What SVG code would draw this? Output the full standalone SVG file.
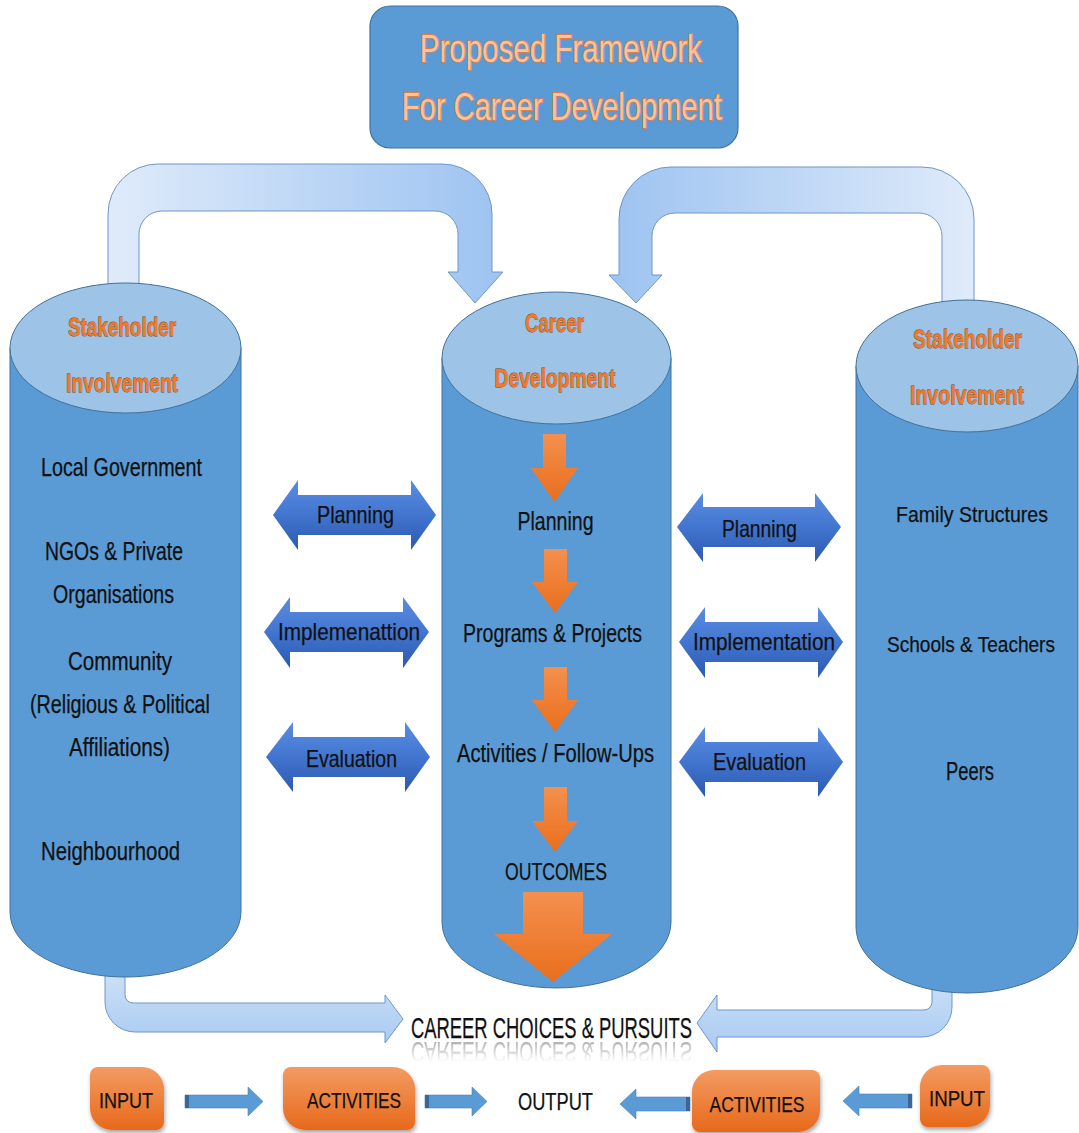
<svg xmlns="http://www.w3.org/2000/svg" width="1079" height="1133" viewBox="0 0 1079 1133">
  <style>
    .t { font-family: "Liberation Sans Narrow", "Liberation Sans", Arial, sans-serif; fill: #111; stroke: #111; stroke-width: 0.25; text-anchor: middle; }
    .lbl { font-family: "Liberation Sans Narrow", "Liberation Sans", Arial, sans-serif; font-weight: bold; fill: #f07a2a; stroke: #6e4428; stroke-width: 0.8; paint-order: stroke; text-anchor: middle; }
    .ttl { font-family: "Liberation Sans Narrow", "Liberation Sans", Arial, sans-serif; fill: #f8c39d; stroke: #ec7a2e; stroke-width: 1.4; paint-order: stroke; text-anchor: middle; }
    .body { fill: #5b9bd5; stroke: #41719c; stroke-width: 1; }
    .cap { fill: #9dc3e6; stroke: #41719c; stroke-width: 1; }
    .dbl { fill: url(#gDbl); }
    .ora { fill: url(#gOra); }
    .box { fill: url(#gBox); filter: url(#shadow); }
    .sm { fill: #5b9bd5; stroke: #4a7ebb; stroke-width: 0.6; }
    .smcap { fill: #3a6796; }
  </style>
  <defs>
    <linearGradient id="gTopL" x1="0" y1="0" x2="1" y2="0">
      <stop offset="0" stop-color="#dfebfa"/>
      <stop offset="1" stop-color="#9dc3f1"/>
    </linearGradient>
    <linearGradient id="gTopR" x1="0" y1="0" x2="1" y2="0">
      <stop offset="0" stop-color="#9dc3f1"/>
      <stop offset="1" stop-color="#dfebfa"/>
    </linearGradient>
    <linearGradient id="gBot" x1="0" y1="0" x2="0" y2="1">
      <stop offset="0" stop-color="#d3e4f8"/>
      <stop offset="1" stop-color="#a9cbf2"/>
    </linearGradient>
    <linearGradient id="gDbl" x1="0" y1="0" x2="0" y2="1">
      <stop offset="0" stop-color="#5a8de0"/>
      <stop offset="0.5" stop-color="#4275cf"/>
      <stop offset="1" stop-color="#2c59b0"/>
    </linearGradient>
    <linearGradient id="gOra" x1="0" y1="0" x2="0" y2="1">
      <stop offset="0" stop-color="#f4904f"/>
      <stop offset="1" stop-color="#e96e1b"/>
    </linearGradient>
    <linearGradient id="gBox" x1="0" y1="0" x2="0" y2="1">
      <stop offset="0" stop-color="#f39b63"/>
      <stop offset="1" stop-color="#e7691a"/>
    </linearGradient>
    <linearGradient id="gFade" gradientUnits="userSpaceOnUse" x1="0" y1="1040" x2="0" y2="1062">
      <stop offset="0" stop-color="#fff"/>
      <stop offset="1" stop-color="#000"/>
    </linearGradient>
    <mask id="fade">
      <rect x="400" y="1038" width="300" height="30" fill="url(#gFade)"/>
    </mask>
    <filter id="shadow" x="-10%" y="-10%" width="120%" height="130%">
      <feDropShadow dx="1" dy="3" stdDeviation="2" flood-color="#000" flood-opacity="0.35"/>
    </filter>
  </defs>

  <!-- connectors: sweeping feedback arrows between the cylinders and the shared result -->
  <g id="connectors">
    <path d="M108,300 V214 A50,50 0 0 1 158,164 H442 A50,50 0 0 1 492,214 V272 H503 L475,303 L448,272 H458 V234 A23,23 0 0 0 435,211 H162 A23,23 0 0 0 139,234 V300 Z" fill="url(#gTopL)" stroke="#6f96c8" stroke-width="1"/>
    <path d="M974,310 V219 A52,52 0 0 0 922,167 H671 A52,52 0 0 0 619,219 V275 H609 L636,303 L662,275 H652 V236 A23,23 0 0 1 675,213 H919 A23,23 0 0 1 942,236 V310 Z" fill="url(#gTopR)" stroke="#6f96c8" stroke-width="1"/>
    <path d="M105,960 V1002 A30,30 0 0 0 135,1032 H385 V1043 L403,1019 L385,995 V1003 H133 A8,8 0 0 1 125,995 V960 Z" fill="url(#gBot)" stroke="#6f96c8" stroke-width="1"/>
    <path d="M952,960 V1007 A30,30 0 0 1 922,1037 H717 V1052 L697,1023 L717,995 V1010 H924 A8,8 0 0 0 932,1002 V960 Z" fill="url(#gBot)" stroke="#6f96c8" stroke-width="1"/>
  </g>

  <!-- title -->
  <g id="title">
    <rect x="370" y="6" width="368" height="142" rx="20" fill="#5b9bd5" stroke="#41719c" stroke-width="1.2"/>
    <text class="ttl" x="561" y="62" font-size="38" textLength="282" lengthAdjust="spacingAndGlyphs">Proposed Framework</text>
    <text class="ttl" x="562" y="120" font-size="38" textLength="320" lengthAdjust="spacingAndGlyphs">For Career Development</text>
  </g>

  <!-- left stakeholder cylinder -->
  <g id="stakeholders-left">
    <path class="body" d="M10,348 V912 A115.5,65 0 0 0 241,912 V348 Z"/>
    <ellipse class="cap" cx="125.5" cy="348" rx="115.5" ry="65"/>
    <text class="lbl" x="122" y="336" font-size="26" textLength="108" lengthAdjust="spacingAndGlyphs">Stakeholder</text>
    <text class="lbl" x="122" y="392" font-size="26" textLength="112" lengthAdjust="spacingAndGlyphs">Involvement</text>
    <text class="t" x="121.5" y="476" font-size="25" textLength="161" lengthAdjust="spacingAndGlyphs">Local Government</text>
    <text class="t" x="114" y="560" font-size="25" textLength="138" lengthAdjust="spacingAndGlyphs">NGOs &amp; Private</text>
    <text class="t" x="113.5" y="603" font-size="25" textLength="121" lengthAdjust="spacingAndGlyphs">Organisations</text>
    <text class="t" x="120" y="670" font-size="25" textLength="104" lengthAdjust="spacingAndGlyphs">Community</text>
    <text class="t" x="120" y="713" font-size="25" textLength="180" lengthAdjust="spacingAndGlyphs">(Religious &amp; Political</text>
    <text class="t" x="119.5" y="756" font-size="25" textLength="101" lengthAdjust="spacingAndGlyphs">Affiliations)</text>
    <text class="t" x="110.5" y="860" font-size="25" textLength="139" lengthAdjust="spacingAndGlyphs">Neighbourhood</text>
  </g>

  <!-- central career development cylinder with its stage arrows -->
  <g id="career-development">
    <path class="body" d="M442,358 V922 A114.5,66 0 0 0 671,922 V358 Z"/>
    <ellipse class="cap" cx="556.5" cy="358" rx="114.5" ry="66"/>
    <text class="lbl" x="554.5" y="332" font-size="26" textLength="59" lengthAdjust="spacingAndGlyphs">Career</text>
    <text class="lbl" x="555" y="387" font-size="26" textLength="121" lengthAdjust="spacingAndGlyphs">Development</text>
    <path class="ora" d="M543,434 H566 V468 H578 L554.5,502 L531,468 H543 Z"/>
    <text class="t" x="555.5" y="530" font-size="25" textLength="76" lengthAdjust="spacingAndGlyphs">Planning</text>
    <path class="ora" d="M544,549 H567 V582 H578 L555,613 L532,582 H544 Z"/>
    <text class="t" x="552.5" y="642" font-size="25" textLength="179" lengthAdjust="spacingAndGlyphs">Programs &amp; Projects</text>
    <path class="ora" d="M544,667 H567 V700 H578 L555,732 L532,700 H544 Z"/>
    <text class="t" x="555.5" y="762" font-size="25" textLength="197" lengthAdjust="spacingAndGlyphs">Activities / Follow-Ups</text>
    <path class="ora" d="M544,787 H567 V821 H578 L555,852 L532,821 H544 Z"/>
    <text class="t" x="556" y="880" font-size="24" textLength="102" lengthAdjust="spacingAndGlyphs">OUTCOMES</text>
    <path class="ora" d="M523,892 H583 V934 H612 L553,982 L494,934 H523 Z"/>
  </g>

  <!-- right stakeholder cylinder -->
  <g id="stakeholders-right">
    <path class="body" d="M856,366 V927 A111,66 0 0 0 1078,927 V366 Z"/>
    <ellipse class="cap" cx="967" cy="366" rx="111" ry="66"/>
    <text class="lbl" x="967.5" y="348" font-size="26" textLength="109" lengthAdjust="spacingAndGlyphs">Stakeholder</text>
    <text class="lbl" x="967" y="404" font-size="26" textLength="114" lengthAdjust="spacingAndGlyphs">Involvement</text>
    <text class="t" x="972" y="522" font-size="22" textLength="152" lengthAdjust="spacingAndGlyphs">Family Structures</text>
    <text class="t" x="971" y="652" font-size="22" textLength="168" lengthAdjust="spacingAndGlyphs">Schools &amp; Teachers</text>
    <text class="t" x="970" y="780" font-size="25" textLength="48" lengthAdjust="spacingAndGlyphs">Peers</text>
  </g>

  <!-- two-way exchange arrows, left side -->
  <g id="exchange-left">
    <path class="dbl" d="M273,515 L298,480 V495 H411 V480 L436,515 L411,550 V535 H298 V550 Z"/>
    <text class="t" x="355.5" y="523" font-size="24" textLength="77" lengthAdjust="spacingAndGlyphs">Planning</text>
    <path class="dbl" d="M264,632 L290,597 V612 H403 V597 L429,632 L403,668 V652 H290 V668 Z"/>
    <text class="t" x="349" y="640" font-size="24" textLength="142" lengthAdjust="spacingAndGlyphs">Implemenattion</text>
    <path class="dbl" d="M266,757 L293,722 V737 H405 V722 L430,757 L405,792 V777 H293 V792 Z"/>
    <text class="t" x="351.5" y="767" font-size="24" textLength="91" lengthAdjust="spacingAndGlyphs">Evaluation</text>
  </g>

  <!-- two-way exchange arrows, right side -->
  <g id="exchange-right">
    <path class="dbl" d="M677,527 L703,493 V507 H815 V493 L841,527 L815,562 V547 H703 V562 Z"/>
    <text class="t" x="759.5" y="537" font-size="24" textLength="75" lengthAdjust="spacingAndGlyphs">Planning</text>
    <path class="dbl" d="M679,642 L705,607 V622 H818 V607 L843,642 L818,678 V662 H705 V678 Z"/>
    <text class="t" x="764" y="650" font-size="24" textLength="142" lengthAdjust="spacingAndGlyphs">Implementation</text>
    <path class="dbl" d="M679,762 L705,727 V742 H818 V727 L843,762 L818,797 V782 H705 V797 Z"/>
    <text class="t" x="759.5" y="770" font-size="24" textLength="93" lengthAdjust="spacingAndGlyphs">Evaluation</text>
  </g>

  <!-- shared result, with its faded mirror image -->
  <g id="career-choices">
    <text class="t" x="551.5" y="1038" font-size="29" textLength="281" lengthAdjust="spacingAndGlyphs">CAREER CHOICES &amp; PURSUITS</text>
    <g mask="url(#fade)" aria-hidden="true">
      <text class="t" x="551.5" y="1038" font-size="29" textLength="281" lengthAdjust="spacingAndGlyphs" transform="matrix(1 0 0 -1 0 2080)" opacity="0.35">CAREER CHOICES &amp; PURSUITS</text>
    </g>
  </g>

  <!-- input → activities → output chain -->
  <g id="input-left">
    <path class="box" d="M98,1067 H142 A22,22 0 0 1 164,1089 V1122 A8,8 0 0 1 156,1130 H112 A22,22 0 0 1 90,1108 V1075 A8,8 0 0 1 98,1067 Z"/>
    <text class="t" x="126" y="1108" font-size="22" textLength="54" lengthAdjust="spacingAndGlyphs">INPUT</text>
  </g>
  <g id="activities-left">
    <path class="box" d="M291,1067 H393 A22,22 0 0 1 415,1089 V1122 A8,8 0 0 1 407,1130 H305 A22,22 0 0 1 283,1108 V1075 A8,8 0 0 1 291,1067 Z"/>
    <text class="t" x="354" y="1108" font-size="22" textLength="94" lengthAdjust="spacingAndGlyphs">ACTIVITIES</text>
  </g>
  <g id="output">
    <text class="t" x="555.5" y="1110" font-size="23" textLength="75" lengthAdjust="spacingAndGlyphs">OUTPUT</text>
  </g>
  <g id="activities-right">
    <path class="box" d="M714,1070 H812 A8,8 0 0 1 820,1078 V1110 A22,22 0 0 1 798,1132 H700 A8,8 0 0 1 692,1124 V1092 A22,22 0 0 1 714,1070 Z"/>
    <text class="t" x="757" y="1112" font-size="22" textLength="95" lengthAdjust="spacingAndGlyphs">ACTIVITIES</text>
  </g>
  <g id="input-right">
    <path class="box" d="M942,1065 H982 A8,8 0 0 1 990,1073 V1105 A22,22 0 0 1 968,1127 H928 A8,8 0 0 1 920,1119 V1087 A22,22 0 0 1 942,1065 Z"/>
    <text class="t" x="957" y="1106" font-size="22" textLength="56" lengthAdjust="spacingAndGlyphs">INPUT</text>
  </g>

  <g id="chain-arrows">
    <path class="sm" d="M185,1095 H248 V1087 L263,1101.5 L248,1116 V1108 H185 Z"/>
    <rect class="smcap" x="185" y="1095" width="4" height="13"/>
    <path class="sm" d="M425,1095 H472 V1087 L487,1101.5 L472,1116 V1108 H425 Z"/>
    <rect class="smcap" x="425" y="1095" width="4" height="13"/>
    <path class="sm" d="M690,1097 H636 V1089 L620,1104 L636,1119 V1111 H690 Z"/>
    <rect class="smcap" x="686" y="1097" width="4" height="14"/>
    <path class="sm" d="M912,1094 H859 V1086 L843,1101 L859,1116 V1108 H912 Z"/>
    <rect class="smcap" x="908" y="1094" width="4" height="14"/>
  </g>
</svg>
